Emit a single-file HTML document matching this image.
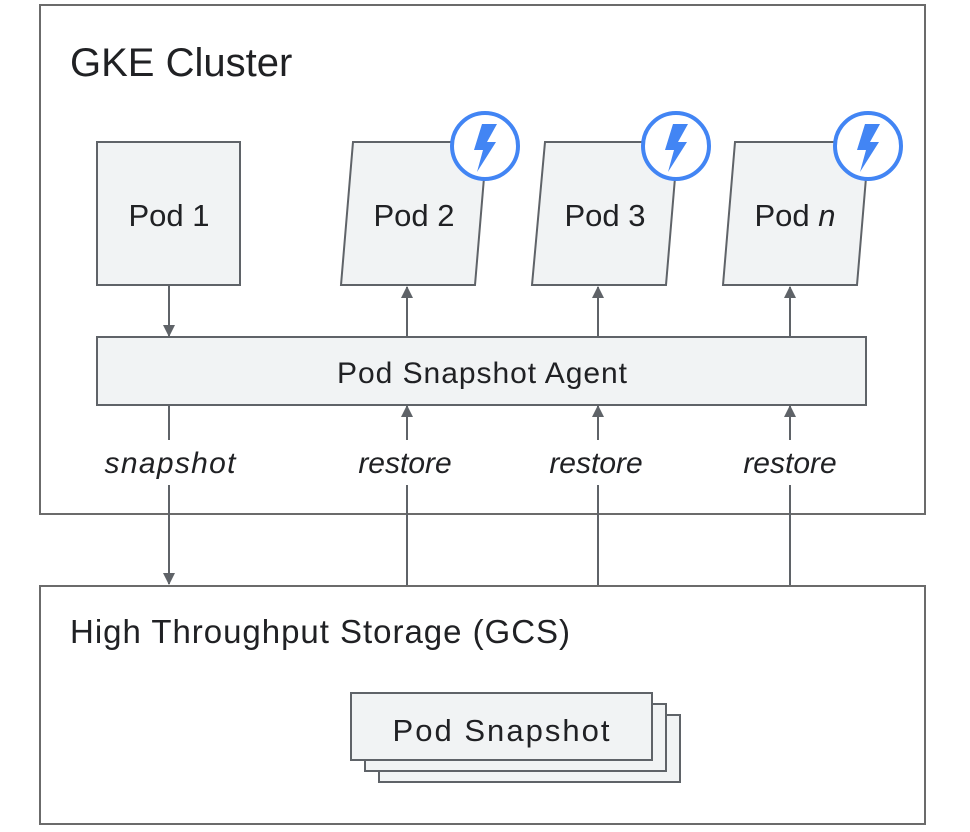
<!DOCTYPE html>
<html><head><style>
html,body{margin:0;padding:0;background:#fff;}
svg{display:block;font-family:"Liberation Sans",Arial,sans-serif;}
</style></head><body>
<svg width="970" height="832" viewBox="0 0 970 832">
<defs>
<marker id="ah" markerWidth="12" markerHeight="12" refX="11" refY="6" orient="auto" markerUnits="userSpaceOnUse">
<path d="M0,0 L12,6 L0,12 z" fill="#5f6368"/>
</marker>
</defs>
<rect x="40" y="5" width="885" height="509" fill="#fff" stroke="#6b6b6b" stroke-width="2"/>
<text x="70" y="76" font-size="40" fill="#202124">GKE Cluster</text>
<rect x="40" y="586" width="885" height="238" fill="#fff" stroke="#6b6b6b" stroke-width="2"/>
<text x="70" y="643" font-size="33" fill="#202124" textLength="500">High Throughput Storage (GCS)</text>

<g stroke="#5f6368" stroke-width="2" fill="#f1f3f4">
<rect x="97" y="142" width="143" height="143"/>
<polygon points="353,142 487,142 475,285 341,285"/>
<polygon points="545,142 678,142 666,285 532,285"/>
<polygon points="735,142 869,142 857,285 723,285"/>
<rect x="97" y="337" width="769" height="68"/>
<rect x="379" y="715" width="301" height="67"/>
<rect x="365" y="704" width="301" height="67"/>
<rect x="351" y="693" width="301" height="67"/>
</g>
<g font-size="31" fill="#202124" text-anchor="middle">
<text x="169" y="226">Pod 1</text>
<text x="414" y="226">Pod 2</text>
<text x="605" y="226">Pod 3</text>
<text x="795" y="226">Pod <tspan font-style="italic">n</tspan></text>
<text x="501" y="741" textLength="217">Pod Snapshot</text>
</g>
<text x="482" y="383" font-size="30" fill="#202124" text-anchor="middle" textLength="290">Pod Snapshot Agent</text>

<g stroke="#4285f4" stroke-width="4" fill="#fff">
<circle cx="485" cy="146" r="33"/>
<circle cx="676" cy="146" r="33"/>
<circle cx="868" cy="146" r="33"/>
</g>
<g fill="#4285f4">
<path d="M482,124 L497,124 L487,142 L496,142 L477,172 L483,150 L474,150 Z"/>
<path d="M673,124 L688,124 L678,142 L687,142 L668,172 L674,150 L665,150 Z"/>
<path d="M865,124 L880,124 L870,142 L879,142 L860,172 L866,150 L857,150 Z"/>
</g>

<g stroke="#5f6368" stroke-width="2" fill="none">
<line x1="169" y1="286" x2="169" y2="336" marker-end="url(#ah)"/>
<line x1="407" y1="336" x2="407" y2="287" marker-end="url(#ah)"/>
<line x1="598" y1="336" x2="598" y2="287" marker-end="url(#ah)"/>
<line x1="790" y1="336" x2="790" y2="287" marker-end="url(#ah)"/>
<line x1="169" y1="405" x2="169" y2="440"/>
<line x1="169" y1="485" x2="169" y2="584" marker-end="url(#ah)"/>
<line x1="407" y1="585" x2="407" y2="485"/>
<line x1="407" y1="440" x2="407" y2="406" marker-end="url(#ah)"/>
<line x1="598" y1="585" x2="598" y2="485"/>
<line x1="598" y1="440" x2="598" y2="406" marker-end="url(#ah)"/>
<line x1="790" y1="585" x2="790" y2="485"/>
<line x1="790" y1="440" x2="790" y2="406" marker-end="url(#ah)"/>
</g>
<g font-size="30" font-style="italic" fill="#202124" text-anchor="middle">
<text x="170" y="473" textLength="131">snapshot</text>
<text x="405" y="473">restore</text>
<text x="596" y="473">restore</text>
<text x="790" y="473">restore</text>
</g>
</svg>
</body></html>
